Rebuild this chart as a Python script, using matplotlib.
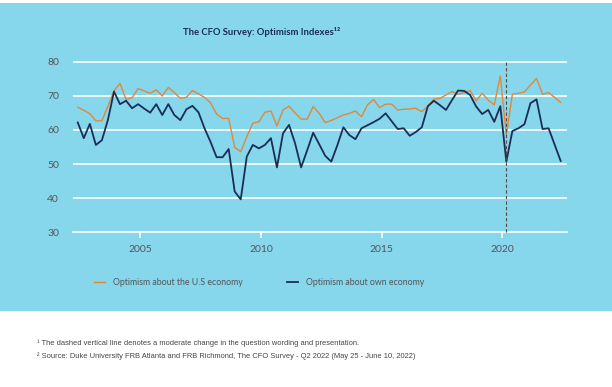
import matplotlib.pyplot as plt
import numpy as np
import pandas as pd
from matplotlib.patches import Rectangle

# quarterly survey waves, Q2 2002 .. Q2 2022
quarters = pd.period_range("2002Q2", "2022Q2", freq="Q")

us_economy = [
    66.7, 65.8, 64.8, 62.7, 62.7, 67.0, 71.5, 73.7, 69.0, 69.5,
    72.2, 71.5, 70.8, 71.8, 70.0, 72.5, 71.0, 69.3, 69.6, 71.6,
    70.6, 69.6, 68.0, 64.7, 63.4, 63.4, 54.9, 53.6, 58.0, 62.0,
    62.4, 65.2, 65.6, 61.2, 65.9, 67.0, 65.0, 63.2, 63.2, 66.9,
    64.9, 62.2, 62.8, 63.6, 64.4, 64.9, 65.6, 63.9, 67.4, 69.0,
    66.6, 67.6, 67.6, 65.9, 66.1, 66.2, 66.4, 65.4, 67.0, 69.1,
    69.3, 70.3, 71.3, 70.5, 71.0, 71.6, 68.6, 70.8, 68.8, 67.4,
    75.9, 58.5, 70.5, 70.8, 71.2, 73.2, 75.2, 70.5, 71.0, 69.6,
    68.1,
]

own_economy = [
    62.2, 57.6, 61.8, 55.6, 57.0, 63.0, 71.3, 67.6, 68.6, 66.4,
    67.6, 66.3, 65.1, 67.6, 64.4, 67.6, 64.4, 62.9, 66.1, 67.1,
    65.2, 60.5, 56.5, 52.0, 52.0, 54.4, 41.9, 39.6, 52.2, 55.6,
    54.6, 55.6, 57.6, 49.0, 59.0, 61.5, 56.1, 49.0, 54.0, 59.2,
    55.8, 52.4, 50.7, 55.5, 60.8, 58.5, 57.3, 60.5, 61.4, 62.3,
    63.3, 64.9, 62.6, 60.3, 60.5, 58.3, 59.4, 60.8, 67.0, 68.6,
    67.3, 65.9, 68.8, 71.6, 71.5, 70.3, 66.9, 64.7, 65.9, 62.4,
    67.0, 50.7, 59.7, 60.5, 61.7, 67.9, 69.0, 60.3, 60.5, 55.7,
    50.9,
]

wording_change = 2020.17
year_ticks = [2005, 2010, 2015, 2020]
y_ticks = [30, 40, 50, 60, 70, 80]

# survey waves sit in the last month of each quarter
x = np.array([q.year + (q.quarter * 3 - 1) / 12 for q in quarters])

bg = "#86D6EC"
orange = "#E0893A"
navy = "#1B2D55"
grey = "#555555"

fig = plt.figure(figsize=(6.12, 3.87), dpi=100, facecolor="white")
fig.patches.append(Rectangle((0, 0.196), 1, 0.797, transform=fig.transFigure,
                             facecolor=bg, edgecolor="none", zorder=-1))

ax = fig.add_axes([0.1193, 0.3917, 0.8072, 0.4569])
ax.set_zorder(2)
ax.set_facecolor("none")

ax.plot(x, us_economy, color=orange, lw=1.0, label="Optimism about the U.S economy", zorder=3)
ax.plot(x, own_economy, color=navy, lw=1.3, label="Optimism about own economy", zorder=4)
ax.plot([wording_change, wording_change], [30, 80], color="#5A4848", lw=0.8,
        ls=(0, (3, 2)), zorder=5)

ax.set_xlim(2002.22, 2022.68)
ax.set_ylim(29, 81)
ax.set_yticks(y_ticks)
ax.set_xticks(year_ticks)
ax.set_xticklabels([str(y) for y in year_ticks])
for yv in y_ticks[1:]:
    ax.axhline(yv, color="white", lw=1.2, zorder=1)

for s in ["top", "right", "left"]:
    ax.spines[s].set_visible(False)
ax.spines["bottom"].set_position(("data", 30))
ax.spines["bottom"].set_color("white")
ax.spines["bottom"].set_linewidth(1.2)
ax.tick_params(axis="x", colors="white", length=4, width=1.2, direction="out", pad=5)
ax.tick_params(axis="y", length=0, pad=10)
for lab in ax.get_xticklabels() + ax.get_yticklabels():
    lab.set_color(grey)
    lab.set_fontsize(7.5)
    lab.set_fontfamily("Lato")

fig.text(0.428, 0.917, "The CFO Survey: Optimism Indexes\u00b9\u00b2", ha="center", va="center",
         fontsize=6.8, fontweight="bold", color=navy, family="Lato")

fig.legend(loc="center", bbox_to_anchor=(0.423, 0.269), ncol=2, frameon=False,
           handlelength=1.3, handletextpad=0.9, columnspacing=5.0,
           prop={"family": "Lato", "size": 6.3}, labelcolor=grey)

fig.text(0.061, 0.113, "\u00b9 The dashed vertical line denotes a moderate change in the question wording and presentation.",
         fontsize=5.45, color="#444444", family="Liberation Sans", va="center")
fig.text(0.061, 0.080, "\u00b2 Source: Duke University FRB Atlanta and FRB Richmond, The CFO Survey - Q2 2022 (May 25 - June 10, 2022)",
         fontsize=5.45, color="#444444", family="Liberation Sans", va="center")

fig.savefig("out.png", dpi=100, facecolor="white")
